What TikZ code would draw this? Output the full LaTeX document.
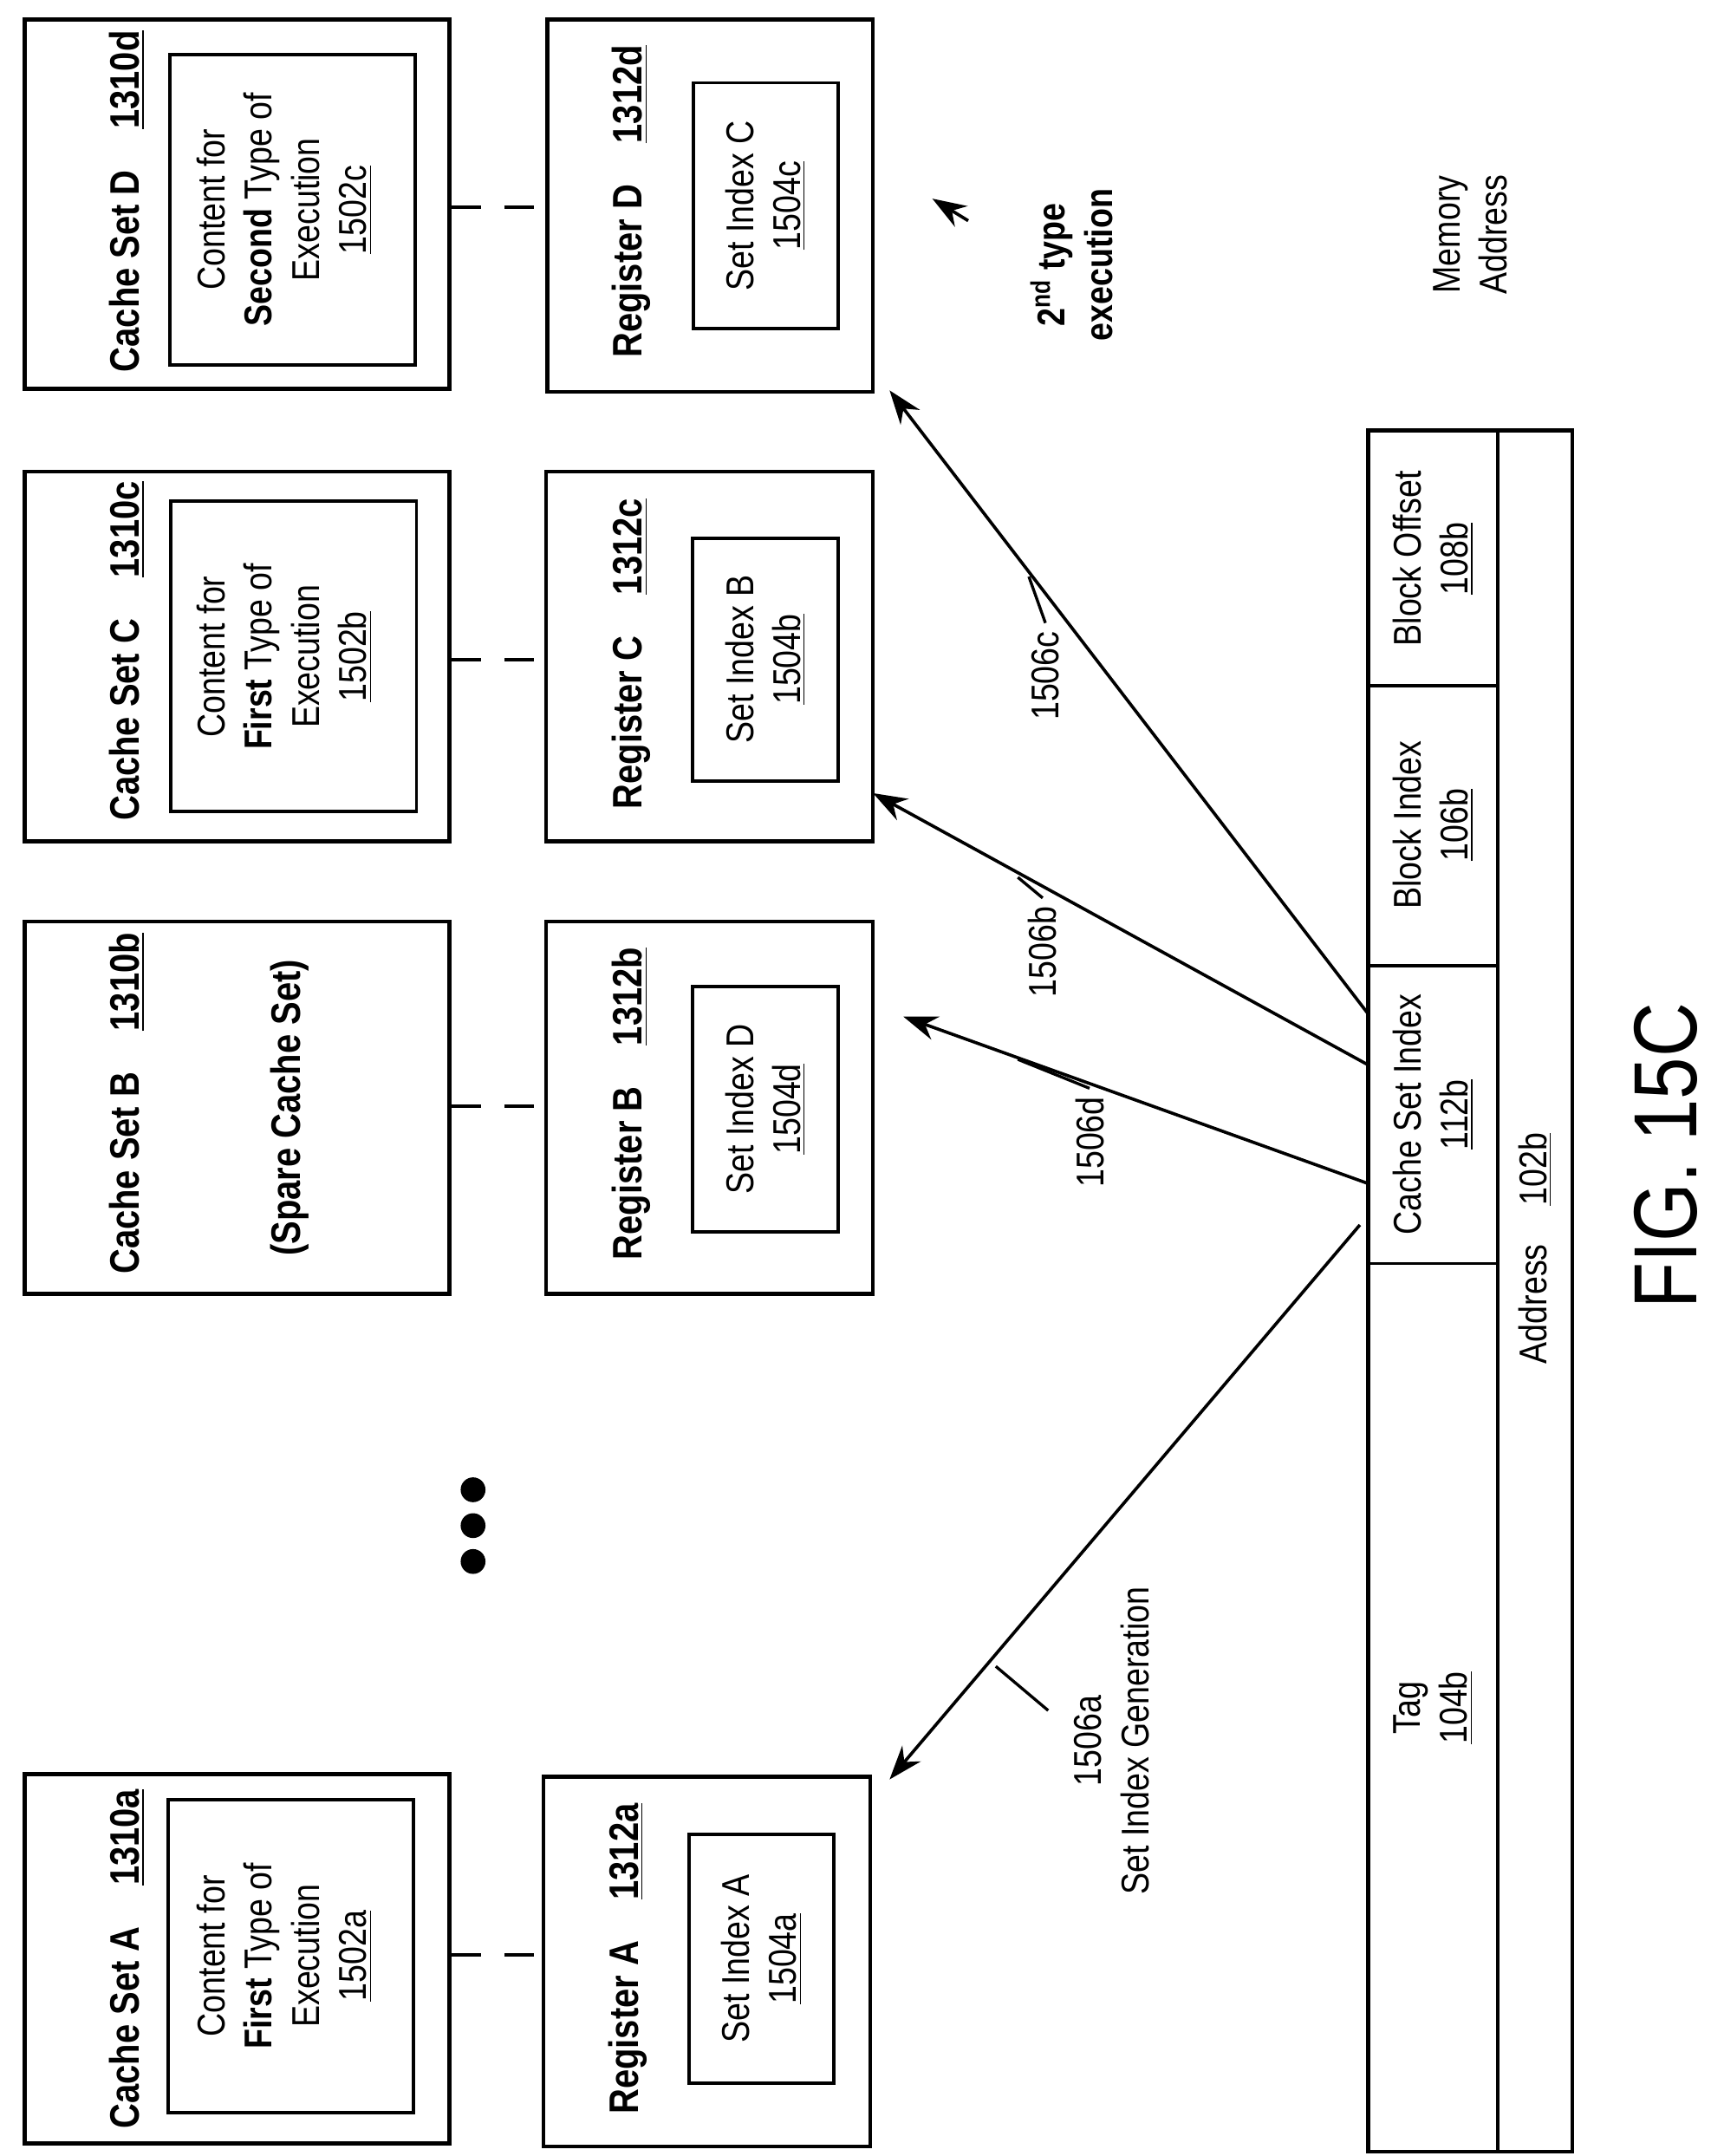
\documentclass[tikz,border=0pt]{standalone}
\usepackage{fontspec}
\setmainfont[FakeStretch=0.84]{Liberation Sans}
\usetikzlibrary{arrows.meta}
\newcommand\bx[5]{\node[box,minimum width={(#4-#2)*0.02cm},minimum height={(#5-#3)*0.02cm}] (#1) at ({(#2+#4)/2},{(#3+#5)/2}) {};}
\begin{document}
\begin{tikzpicture}[x=0.02cm,y=-0.02cm,
  box/.style={draw,line width=1.6pt,inner sep=0pt},
  ibox/.style={draw,line width=1.4pt,inner sep=0pt},
  lbl/.style={rotate=90,font=\fontsize{17}{20}\selectfont\bfseries},
  txt/.style={rotate=90,font=\fontsize{16}{19.5}\selectfont,align=center},
  arr/.style={line width=1.3pt,-{Stealth[length=14pt,width=10pt]}},
  dsh/.style={line width=1.5pt,dash pattern=on 12pt off 10pt}]
\useasboundingbox (0,0) rectangle (1240,1563);
% cache sets
\bx{csD}{18}{14}{326}{282}
\bx{csC}{18}{342}{326}{610}
\bx{csB}{18}{668}{326}{938}
\bx{csA}{18}{1286}{326}{1554}
\node[ibox,minimum width={178*0.02cm},minimum height={225*0.02cm}] (cD) at (212,152) {};
\node[ibox,minimum width={178*0.02cm},minimum height={225*0.02cm}] (cC) at (213,476) {};
\node[ibox,minimum width={178*0.02cm},minimum height={227*0.02cm}] (cA) at (211,1418) {};
\node[lbl] (tD) at (92,146) {Cache Set D\quad\underline{1310d}};
\node[lbl] (tC) at (92,472) {Cache Set C\quad\underline{1310c}};
\node[lbl] (tB) at (92,800) {Cache Set B\quad\underline{1310b}};
\node[lbl] (tA) at (92,1420) {Cache Set A\quad\underline{1310a}};
\node[lbl] (spare) at (210,803) {(Spare Cache Set)};
\node[txt] (xD) at (206,152) {Content for\\\textbf{Second} Type of\\Execution\\\underline{1502c}};
\node[txt] (xC) at (206,476) {Content for\\\textbf{First} Type of\\Execution\\\underline{1502b}};
\node[txt] (xA) at (206,1418) {Content for\\\textbf{First} Type of\\Execution\\\underline{1502a}};
% registers
\bx{rD}{397}{14}{633}{284}
\bx{rC}{396}{342}{633}{610}
\bx{rB}{396}{668}{633}{938}
\bx{rA}{394}{1288}{631}{1556}
\node[ibox,minimum width={105*0.02cm},minimum height={178*0.02cm}] (iD) at (555,149) {};
\node[ibox,minimum width={106*0.02cm},minimum height={176*0.02cm}] (iC) at (555,478) {};
\node[ibox,minimum width={106*0.02cm},minimum height={178*0.02cm}] (iB) at (555,804) {};
\node[ibox,minimum width={105*0.02cm},minimum height={180*0.02cm}] (iA) at (552,1420) {};
\node[lbl] (gD) at (458,146) {Register D\quad\underline{1312d}};
\node[lbl] (gC) at (458,474) {Register C\quad\underline{1312c}};
\node[lbl] (gB) at (458,800) {Register B\quad\underline{1312b}};
\node[lbl] (gA) at (455,1420) {Register A\quad\underline{1312a}};
\node[txt] (sD) at (555,149) {Set Index C\\\underline{1504c}};
\node[txt] (sC) at (555,478) {Set Index B\\\underline{1504b}};
\node[txt] (sB) at (555,804) {Set Index D\\\underline{1504d}};
\node[txt] (sA) at (552,1420) {Set Index A\\\underline{1504a}};
% dashes
\draw[dsh] (csD.east|-0,150) -- (rD.west|-0,150);
\draw[dsh] (csC.east|-0,478) -- (rC.west|-0,478);
\draw[dsh] (csB.east|-0,802) -- (rB.west|-0,802);
\draw[dsh] (csA.east|-0,1417) -- (rA.west|-0,1417);
% dots
\foreach \y/\n in {1080/d1,1106/d2,1132/d3} \fill (343,\y) circle (9) coordinate (\n);
% memory address
\bx{mem}{992}{312}{1140}{1560}
\draw[line width=1.4pt] (1086,312) -- (1086,1560);
\draw[line width=1.4pt] (992,497) -- (1086,497) (992,700) -- (1086,700) (992,916) -- (1086,916);
\node[txt] (bo) at (1039,405) {Block Offset\\\underline{108b}};
\node[txt] (bi) at (1039,598) {Block Index\\\underline{106b}};
\node[txt] (ci) at (1039,808) {Cache Set Index\\\underline{112b}};
\node[txt] (tg) at (1039,1238) {Tag\\\underline{104b}};
\node[txt] (ad) at (1113,905) {Address\quad\underline{102b}};
\node[txt] (ma) at (1066,170) {Memory\\Address};
\node[txt,font=\fontsize{16}{19.5}\selectfont\bfseries] (nd) at (777,192) {2\textsuperscript{nd} type\\execution};
\coordinate (n1) at (702,160); \coordinate (n2) at (676,144);
\draw[arr] (n1) -- (n2);
% arrows
\coordinate (oD) at (992,735); \coordinate (eD) at (645,283);
\coordinate (oC) at (992,772); \coordinate (eC) at (633,575);
\coordinate (oB) at (992,858); \coordinate (eB) at (655,737);
\coordinate (oA) at (986,888); \coordinate (eA) at (645,1290);
\draw[arr] (oD) -- (eD);
\draw[arr] (oC) -- (eC);
\draw[arr] (oB) -- (eB);
\draw[arr] (oA) -- (eA);
% labels
\node[txt] (l1506c) at (758,490) {1506c};
\node[txt] (l1506b) at (756,690) {1506b};
\node[txt] (l1506d) at (790,828) {1506d};
\node[txt] (l1506a) at (806,1262) {1506a\\Set Index Generation};
\coordinate (kc) at (746,418); \draw[line width=1.2pt] (l1506c.east) -- (kc);
\coordinate (kb) at (738,636); \draw[line width=1.2pt] (l1506b.east) -- (kb);
\coordinate (kd) at (738,768); \draw[line width=1.2pt] (l1506d.east) -- (kd);
\coordinate (ka) at (722,1208); \draw[line width=1.2pt] (760,1240) -- (ka);
\node[rotate=90,inner sep=0pt,font=\fontsize{37}{40}\selectfont] (fig) at (1208,838) {FIG. 15C};
\end{tikzpicture}
\end{document}
